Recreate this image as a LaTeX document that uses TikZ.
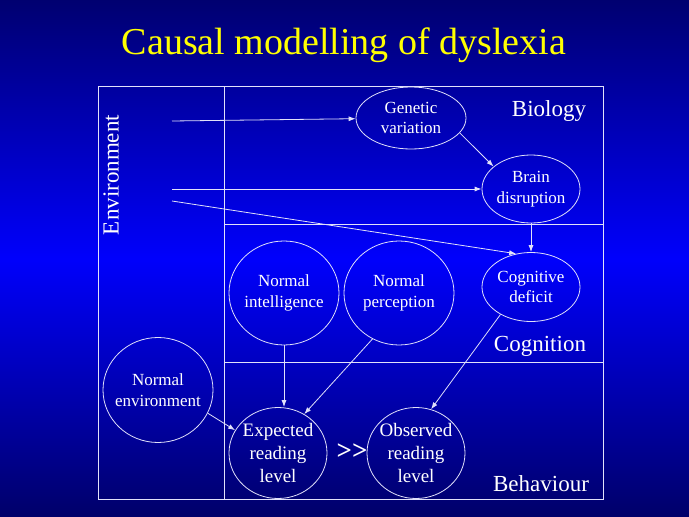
\documentclass[tikz,border=0pt]{standalone}
\usepackage{fontspec}
\setmainfont{Liberation Serif}
\usetikzlibrary{arrows.meta,shapes.geometric}
\definecolor{ln}{RGB}{225,225,250}
\definecolor{bgtop}{RGB}{0,0,112}
\definecolor{bgmid}{RGB}{0,0,252}
\definecolor{bgbot}{RGB}{0,0,105}
\definecolor{ttl}{RGB}{255,255,0}
\begin{document}
\begin{tikzpicture}[x=1pt,y=-1pt,
  line width=0.8pt,
  frame/.style={draw=ln},
  conn/.style={draw=ln,-{Latex[length=7pt,width=5pt]}},
  bubble/.style={draw=ln,ellipse,inner sep=-20pt,text=white,align=center,
    font=\fontsize{17}{20.5}\selectfont},
  bigbubble/.style={bubble,font=\fontsize{19}{23}\selectfont},
  region/.style={text=white,font=\fontsize{23}{26}\selectfont,inner sep=0pt},
]
\useasboundingbox (0,0) rectangle (689,517);
\shade[top color=bgtop,bottom color=bgbot,middle color=bgmid] (0,0) rectangle (689,517);
% title
\node[text=ttl,font=\fontsize{38}{40}\selectfont,inner sep=0pt] (title) at (344,45) {Causal modelling of dyslexia};
% frame
\draw[frame] (98,86) rectangle (603,499);
\draw[frame] (224,86) -- (224,499);
\draw[frame] (224,224) -- (603,224);
\draw[frame] (224,362) -- (603,362);
% region labels
\node[region] (bio) at (549,111) {Biology};
\node[region] (cogn) at (540,346) {Cognition};
\node[region] (beh) at (541,484) {Behaviour};
\node[region,rotate=90] (env) at (111,175) {Environment};
% nodes
\node[bubble,minimum width=110pt,minimum height=62pt] (gen) at (411,118) {Genetic\\variation};
\node[bubble,minimum width=98pt,minimum height=68pt] (brain) at (531,189) {Brain\\disruption};
\node[bubble,minimum width=98pt,minimum height=69pt] (cog) at (531,287) {Cognitive\\deficit};
\node[bubble,minimum width=110pt,minimum height=104pt] (intel) at (284,293) {Normal\\intelligence};
\node[bubble,minimum width=110pt,minimum height=104pt] (perc) at (399,293) {Normal\\perception};
\node[bubble,minimum width=110pt,minimum height=105pt] (nenv) at (158,390) {Normal\\environment};
\node[bigbubble,minimum width=98pt,minimum height=91pt] (exp) at (278,453) {Expected\\reading\\level};
\node[bigbubble,minimum width=98pt,minimum height=91pt] (obs) at (416,453) {Observed\\reading\\level};
\node[text=white,font=\bfseries\fontsize{27}{29}\selectfont,inner sep=0pt] (gg) at (352,452) {{>}{>}};
% environment arrow starts
\coordinate (e1) at (172,121);
\coordinate (e2) at (172,189);
\coordinate (e3) at (172,201);
% connectors
\draw[conn] (e1) -- (gen);
\draw[conn] (e2) -- (brain);
\draw[conn] (e3) -- (cog.114);
\draw[conn] (gen.-17) -- (brain.149);
\draw[conn] (brain.south) -- (cog.north);
\draw[conn] (intel.south) -- (intel.south |- exp.north);
\draw[conn] (perc.240) -- (exp.56);
\draw[conn] (nenv.-25) -- (exp.152);
\draw[conn] (cog.222) -- (obs.71);
\end{tikzpicture}
\end{document}
